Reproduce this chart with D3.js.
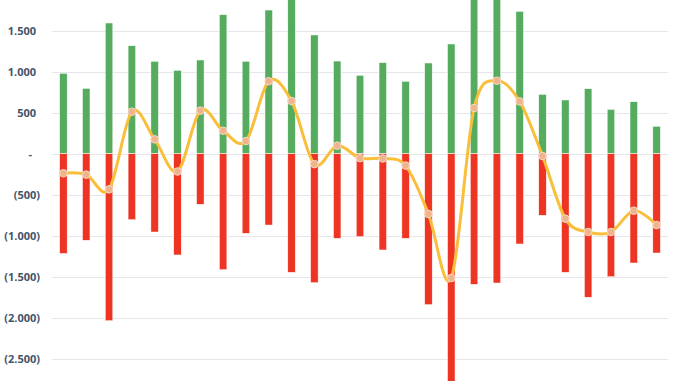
<!DOCTYPE html>
<html>
<head>
<meta charset="utf-8">
<script src="https://cdn.jsdelivr.net/npm/d3@7"></script>
<style>
	html, body { margin: 0; padding: 0; background: #fff; }
	svg { display: block; }
	.tick-label { font-family: "Open Sans", sans-serif; font-weight: 700; font-size: 11px; fill: #44546A; }
</style>
</head>
<body>
<svg width="678" height="381"></svg>
<script>
'use strict';

// one bar pair per period
const periods = d3.range(1, 28).map(d => "P" + d);
const inflows = [980, 797, 1594, 1317, 1127, 1017, 1143, 1695, 1127, 1752, 2090, 1448, 1130, 956,
	1110, 883, 1106, 1338, 2150, 2467, 1736, 724, 655, 793, 541, 634, 334];
const outflows = [-1217, -1056, -2037, -805, -955, -1235, -617, -1415, -971, -870, -1447, -1573, -1032, -1012,
	-1174, -1032, -1841, -2854, -1593, -1577, -1101, -751, -1447, -1751, -1500, -1333, -1211];
const netValues = [-239, -255, -435, 512, 175, -217, 525, 280, 154, 884, 643, -127, 98, -54,
	-58, -145, -735, -1516, 557, 890, 637, -28, -792, -955, -955, -695, -870];
const tickValues = [1500, 1000, 500, 0, -500, -1000, -1500, -2000, -2500];

function formatTick(v) {
	if (v === 0) return "-";
	const s = d3.format(",")(Math.abs(v)).replace(/,/g, ".");
	return v < 0 ? "(" + s + ")" : s;
}

const svg = d3.select("svg");
const left = 52, right = 668;

const x = d3.scaleBand()
	.domain(periods)
	.range([left, right])
	.paddingInner(0.67)
	.paddingOuter(0.335);

const y = d3.scaleLinear()
	.domain([-3000, 2000])
	.range([399.7, -10.3]);

const clip = svg.append("defs").append("clipPath").attr("id", "plot")
	.append("rect").attr("x", left).attr("y", 0).attr("width", right - left).attr("height", 381);

// gridlines
svg.append("g")
	.selectAll("line")
	.data(tickValues)
	.enter().append("line")
	.attr("x1", left)
	.attr("x2", right)
	.attr("y1", d => Math.round(y(d)) + 0.5)
	.attr("y2", d => Math.round(y(d)) + 0.5)
	.attr("stroke", "#E6E6EC")
	.attr("stroke-width", 1);

svg.append("g")
	.selectAll("text")
	.data(tickValues)
	.enter().append("text")
	.attr("class", "tick-label")
	.attr("x", d => d < 0 ? 40 : (d === 0 ? 32 : 36))
	.attr("y", d => y(d) + 4)
	.attr("text-anchor", "end")
	.text(formatTick);

const bars = svg.append("g").attr("clip-path", "url(#plot)");

bars.selectAll("rect.in")
	.data(inflows)
	.enter().append("rect")
	.attr("class", "in")
	.attr("x", (d, i) => x(periods[i]))
	.attr("width", x.bandwidth())
	.attr("y", d => y(d))
	.attr("height", d => y(0) - y(d))
	.attr("fill", "#55AB5E")
	.attr("stroke", "#fff")
	.attr("stroke-width", 0.5);

bars.selectAll("rect.out")
	.data(outflows)
	.enter().append("rect")
	.attr("class", "out")
	.attr("x", (d, i) => x(periods[i]))
	.attr("width", x.bandwidth())
	.attr("y", y(0))
	.attr("height", d => y(d) - y(0))
	.attr("fill", "#EE3524")
	.attr("stroke", "#fff")
	.attr("stroke-width", 0.5);

const cx = (d, i) => x(periods[i]) + x.bandwidth() / 2;

const line = d3.line()
	.x(cx)
	.y(d => y(d))
	.curve(d3.curveCardinal.tension(0));

svg.append("path")
	.datum(netValues)
	.attr("d", line)
	.attr("fill", "none")
	.attr("stroke", "#F9BE3A")
	.attr("stroke-width", 3);

svg.append("g")
	.selectAll("circle")
	.data(netValues)
	.enter().append("circle")
	.attr("cx", cx)
	.attr("cy", d => y(d))
	.attr("r", 3.8)
	.attr("fill", "#EFB48C")
	.attr("stroke", "#F6D7C2")
	.attr("stroke-width", 1);
</script>
</body>
</html>
